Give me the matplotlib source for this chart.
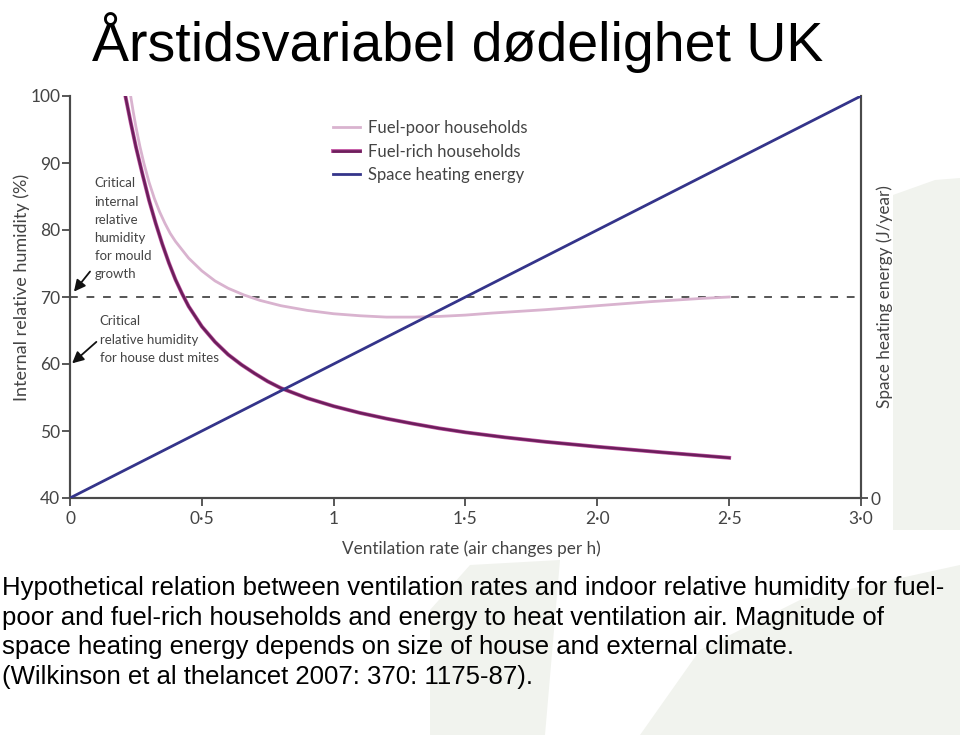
import matplotlib
matplotlib.use("Agg")
import matplotlib.pyplot as plt
import matplotlib.patheffects as pe
from matplotlib.patches import Polygon

# values
poor_x = [0.23, 0.24, 0.25, 0.265, 0.28, 0.30, 0.32, 0.34, 0.36, 0.38, 0.40, 0.45,
          0.50, 0.55, 0.60, 0.66, 0.72, 0.80, 0.90, 1.00, 1.10, 1.20, 1.30, 1.40,
          1.50, 1.60, 1.80, 2.00, 2.20, 2.40, 2.50]
poor_rh = [100, 97.6, 95.4, 92.5, 90.0, 87.1, 84.7, 82.7, 81.0, 79.5, 78.3, 75.8,
           73.9, 72.4, 71.3, 70.3, 69.5, 68.7, 68.0, 67.5, 67.2, 67.0, 67.0, 67.1,
           67.3, 67.6, 68.1, 68.7, 69.3, 69.8, 70.0]

rich_x = [0.21, 0.23, 0.25, 0.275, 0.30, 0.325, 0.35, 0.375, 0.40, 0.425, 0.45, 0.50,
          0.55, 0.60, 0.65, 0.70, 0.75, 0.80, 0.90, 1.00, 1.10, 1.20, 1.30, 1.40,
          1.50, 1.65, 1.80, 2.00, 2.25, 2.50]
rich_rh = [100, 96.1, 92.4, 88.3, 84.4, 81.0, 77.9, 75.1, 72.6, 70.5, 68.6, 65.6,
           63.3, 61.4, 59.9, 58.6, 57.4, 56.4, 54.9, 53.7, 52.7, 51.85, 51.1, 50.4,
           49.8, 49.05, 48.4, 47.65, 46.8, 46.0]

energy_x = [0, 3.0]
energy_val = [0, 100]

mould_rh = 70
x_ticks = [0, 0.5, 1, 1.5, 2.0, 2.5, 3.0]
x_labels = ["0", "0\u00b75", "1", "1\u00b75", "2\u00b70", "2\u00b75", "3\u00b70"]
y_ticks = [40, 50, 60, 70, 80, 90, 100]

title = "Årstidsvariabel dødelighet UK"
caption = ("Hypothetical relation between ventilation rates and indoor relative humidity for fuel-\n"
           "poor and fuel-rich households and energy to heat ventilation air. Magnitude of\n"
           "space heating energy depends on size of house and external climate.\n"
           "(Wilkinson et al thelancet 2007: 370: 1175-87).")

c_poor = "#d9b3cf"
c_rich = "#6c1f5c"
c_energy = "#34348a"
c_axis = "#4a4a4a"
c_text = "#444444"
chart_font = "Lato"

fig = plt.figure(figsize=(9.6, 7.35), dpi=100)

# faint watermark shapes of the slide background
bg = "#f1f3ee"
for pts in ([(893, 195), (935, 180), (960, 178), (960, 530), (893, 530)],
            [(430, 610), (470, 565), (560, 560), (545, 735), (430, 735)],
            [(640, 735), (700, 650), (800, 600), (960, 565), (960, 735)]):
    fig.patches.append(Polygon([(x / 960, 1 - y / 735) for x, y in pts], closed=True,
                               transform=fig.transFigure, facecolor=bg,
                               edgecolor="none", zorder=0))

ax = fig.add_axes([70 / 960, 1 - 498 / 735, 791 / 960, 402 / 735])
ax2 = ax.twinx()
ax.patch.set_alpha(0)
ax2.patch.set_alpha(0)

ax.plot(poor_x, poor_rh, color=c_poor, lw=2.0, label="Fuel-poor households", zorder=3)
ax.plot(rich_x, rich_rh, color=c_rich, lw=1.9, label="Fuel-rich households", zorder=4,
        path_effects=[pe.Stroke(linewidth=2.8, foreground="#c45aa6"), pe.Normal()])
ax.axhline(mould_rh, color="#555555", lw=1.4, dashes=(4, 4.5), zorder=2)
ax2.plot(energy_x, energy_val, color=c_energy, lw=2.0, zorder=3)
ax.plot([], [], color=c_energy, lw=2.0, label="Space heating energy")

ax.set_xlim(0, 3.0)
ax.set_ylim(40, 100)
ax2.set_ylim(0, 100)
ax.set_xticks(x_ticks)
ax.set_xticklabels(x_labels)
ax.set_yticks(y_ticks)
ax2.set_yticks([0])

for a in (ax, ax2):
    a.spines["top"].set_visible(False)
    for s in a.spines.values():
        s.set_color(c_axis)
        s.set_linewidth(1.5)
    a.tick_params(colors=c_axis, width=1.3, length=6, labelsize=12.5)
    for lab in a.get_xticklabels() + a.get_yticklabels():
        lab.set_fontfamily(chart_font)
        lab.set_color(c_text)
ax.tick_params(axis="y", pad=1)
ax2.tick_params(axis="y", direction="inout", length=10, pad=2)

ax.set_xlabel("Ventilation rate (air changes per h)", fontsize=12.3, family=chart_font,
              color=c_text)
ax.xaxis.set_label_coords(0.507, -0.105)
ax.set_ylabel("Internal relative humidity (%)", fontsize=13, family=chart_font,
              color=c_text)
ax.yaxis.set_label_coords(-0.05, 0.525)
ax2.set_ylabel("Space heating energy (J/year)", fontsize=12.3, family=chart_font,
               color=c_text, labelpad=-3)

leg = ax.legend(loc="upper left", bbox_to_anchor=(0.314, 0.977), frameon=False,
                handlelength=1.6, handletextpad=0.5, labelspacing=0.45,
                prop={"family": chart_font, "size": 12})
for t in leg.get_texts():
    t.set_color(c_text)

note_kw = dict(fontsize=9.5, family=chart_font, color=c_text, linespacing=1.62,
               va="top", ha="left")
arrow_kw = dict(arrowstyle="-|>", color="#111111", lw=1.3, mutation_scale=17,
                shrinkA=0, shrinkB=0)
ax.text(0.093, 87.85, "Critical\ninternal\nrelative\nhumidity\nfor mould\ngrowth", **note_kw)
ax.annotate("", xy=(0.015, 70.8), xytext=(0.076, 73.8), arrowprops=arrow_kw)
ax.text(0.112, 67.25, "Critical\nrelative humidity\nfor house dust mites", **note_kw)
ax.annotate("", xy=(0.008, 60.1), xytext=(0.1, 63.3), arrowprops=arrow_kw)

fig.text(92 / 960, 1 - 43 / 735, title, fontsize=40, family="Liberation Sans",
         va="center", ha="left")
fig.text(2 / 960, 1 - 576 / 735, caption, fontsize=18.5, family="Liberation Sans",
         va="top", ha="left", linespacing=1.3)

fig.savefig("out.png", dpi=100)
